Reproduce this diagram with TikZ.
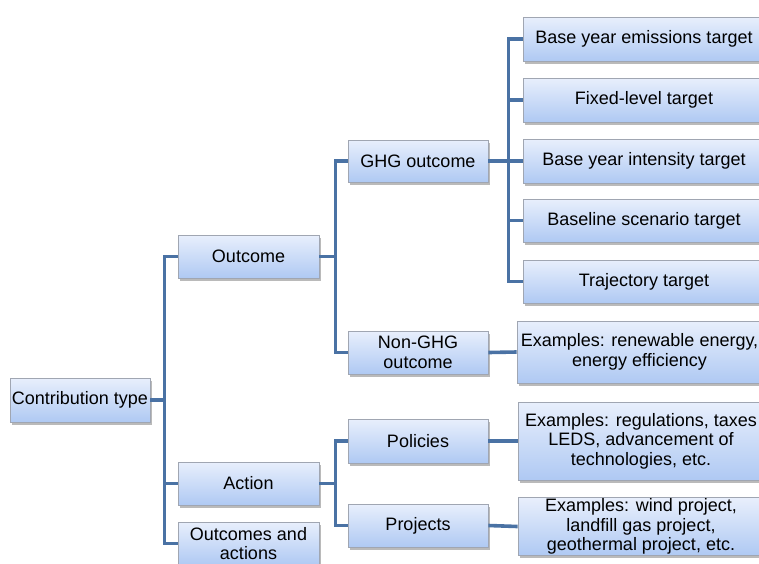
\documentclass[tikz,border=0pt]{standalone}
\usepackage{fontspec}
\setmainfont{Liberation Sans}
\usetikzlibrary{shadows}
\definecolor{boxtop}{HTML}{E8EFFC}
\definecolor{boxbot}{HTML}{AFC9F3}
\definecolor{boxline}{HTML}{A0A6B2}
\definecolor{conncol}{HTML}{4A72A4}
\tikzset{
  box/.style={draw=boxline, line width=0.8pt, top color=boxtop, bottom color=boxbot,
    align=center, inner sep=1pt, font=\fontsize{18}{19.5}\selectfont,
    drop shadow={shadow xshift=1.5pt, shadow yshift=-2.5pt, opacity=0.45, fill=black!60}},
  conn/.style={draw=conncol, line width=3.6pt}
}
\begin{document}
\begin{tikzpicture}[x=1pt,y=-1pt]
\useasboundingbox (0,0) rectangle (759,563);
\clip (0,0) rectangle (759,563);
% level 0
\node[box, minimum width=140, minimum height=44] (ct) at (80,400) {Contribution type};
% level 1
\node[box, minimum width=141, minimum height=43] (out) at (248.5,256.5) {Outcome};
\node[box, minimum width=141, minimum height=43] (act) at (248.5,483.5) {Action};
\node[box, minimum width=141, minimum height=43] (oa) at (248.5,543.5) {Outcomes and\\actions};
% level 2
\node[box, minimum width=140, minimum height=42] (ghg) at (418,161) {GHG outcome};
\node[box, minimum width=140, minimum height=43] (nghg) at (418,352.5) {Non-GHG\\outcome};
\node[box, minimum width=140, minimum height=44] (pol) at (418,441) {Policies};
\node[box, minimum width=140, minimum height=43] (proj) at (418,525.5) {Projects};
% level 3 targets
\node[box, minimum width=242, minimum height=44] (t1) at (644,39) {Base year emissions target};
\node[box, minimum width=242, minimum height=44] (t2) at (644,100) {Fixed-level target};
\node[box, minimum width=242, minimum height=44] (t3) at (644,161) {Base year intensity target};
\node[box, minimum width=242, minimum height=43] (t4) at (644,220.5) {Baseline scenario target};
\node[box, minimum width=242, minimum height=43] (t5) at (644,281.5) {Trajectory target};
% examples
\node[box, minimum width=245, minimum height=62] (e1) at (639.5,352) {Examples: renewable energy,\\energy efficiency};
\node[box, minimum width=246, minimum height=78] (e2) at (641,441) {Examples: regulations, taxes\\LEDS, advancement of\\technologies, etc.};
\node[box, minimum width=246, minimum height=57] (e3) at (641,526.5) {Examples: wind project,\\landfill gas project,\\geothermal project, etc.};
% connectors
\draw[conn] (ct.east) -- ++(14,0) coordinate (j1);
\draw[conn] (j1) |- (out.west);
\draw[conn] (j1) |- (act.west);
\draw[conn] (j1) |- (oa.west);
\draw[conn] (out.east) -- ++(16,0) coordinate (j2);
\draw[conn] (j2) |- (ghg.west);
\draw[conn] (j2) |- (nghg.west);
\draw[conn] (act.east) -- ++(16,0) coordinate (j3);
\draw[conn] (j3) |- (pol.west);
\draw[conn] (j3) |- (proj.west);
\draw[conn] (ghg.east) -- ++(20,0) coordinate (j4);
\draw[conn] (j4) |- (t1.west);
\draw[conn] (j4) |- (t2.west);
\draw[conn] (j4) |- (t3.west);
\draw[conn] (j4) |- (t4.west);
\draw[conn] (j4) |- (t5.west);
\draw[conn] (nghg.east) -- (e1.west);
\draw[conn] (pol.east) -- (e2.west);
\draw[conn] (proj.east) -- (e3.west);
\end{tikzpicture}
\end{document}
